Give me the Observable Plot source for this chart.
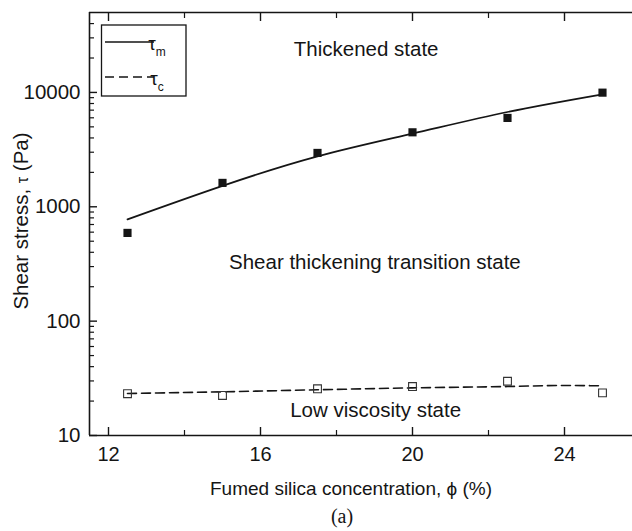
<!DOCTYPE html>
<html>
<head>
<meta charset="utf-8">
<script src="https://cdn.jsdelivr.net/npm/d3@7"></script>
<script src="https://cdn.jsdelivr.net/npm/@observablehq/plot@0.6"></script>
<style>
  html, body { margin: 0; padding: 0; background: #fff; }
  svg text { font-family: "Liberation Sans", Arial, Helvetica, sans-serif; }
</style>
</head>
<body>
<div id="chart"></div>
<script>
// ---- data ----
const concentration = [12.5, 15, 17.5, 20, 22.5, 25];           // φ (%)
const tauMMeasured  = [591, 1618, 2958, 4480, 5985, 9955];      // τm, filled squares (Pa)
const tauMFit       = [776, 1524, 2760, 4362, 6740, 9620];      // τm, solid curve (Pa)
const tauCMeasured  = [23.2, 22.4, 25.6, 26.8, 29.8, 23.6];     // τc, open squares (Pa)
const tauCFitX      = [12.5, 15, 17.5, 20, 22.5, 24, 24.9];
const tauCFit       = [23.3, 24.1, 25.1, 26.1, 26.8, 27.4, 27.2]; // τc, dashed curve (Pa)

const xMajorTicks = [12, 16, 20, 24];
const xMinorTicks = [14, 18, 22];
const yMajorTicks = [10, 100, 1000, 10000];
const yMinorTicks = [2,3,4,5,6,7,8,9].flatMap(m => [10, 100, 1000, 10000].map(d => m * d)).filter(v => v < 50000);

const annotations = [
  {label: "Thickened state", x: 18.78, y: 23900},
  {label: "Shear thickening transition state", x: 19.01, y: 328},
  {label: "Low viscosity state", x: 19.03, y: 16.7}
];

const measured = concentration.map((x, i) => ({x, m: tauMMeasured[i], c: tauCMeasured[i]}));
const fitM = concentration.map((x, i) => ({x, y: tauMFit[i]}));
const fitC = tauCFitX.map((x, i) => ({x, y: tauCFit[i]}));

const ink = "#151515";

const chart = Plot.plot({
  width: 632,
  height: 531,
  marginLeft: 89,
  marginRight: 0,
  marginTop: 12,
  marginBottom: 96,
  style: {fontFamily: "Liberation Sans, Arial, Helvetica, sans-serif", fontSize: "20px", color: ink, background: "#fff"},
  x: {domain: [11.5, 26], range: [89, 640]},
  y: {type: "log", domain: [10, 50000]},
  marks: [
    // frame lines
    Plot.ruleY([10, 50000], {stroke: ink, strokeWidth: 1.6}),
    Plot.ruleX([11.5], {stroke: ink, strokeWidth: 1.6}),
    // y axis labels and inward ticks
    Plot.axisY({ticks: yMajorTicks, tickSize: 0, tickPadding: 9, tickFormat: d => String(d), fontSize: 20.5, label: null, color: ink}),
    Plot.axisY({ticks: yMajorTicks, tickSize: -8, tickFormat: () => "", label: null, stroke: ink, strokeWidth: 1.4}),
    Plot.axisY({ticks: yMinorTicks, tickSize: -5, tickFormat: () => "", label: null, stroke: ink, strokeWidth: 1.2}),
    // x axis labels and inward ticks (bottom and top)
    Plot.axisX({ticks: xMajorTicks, tickSize: 0, tickPadding: 11, tickFormat: d => String(d), fontSize: 20, label: null, color: ink}),
    Plot.axisX({ticks: xMajorTicks, tickSize: -8, tickFormat: () => "", label: null, stroke: ink, strokeWidth: 1.4}),
    Plot.axisX({ticks: xMinorTicks, tickSize: -5, tickFormat: () => "", label: null, stroke: ink, strokeWidth: 1.2}),
    Plot.axisX({anchor: "top", ticks: xMajorTicks, tickSize: -8, tickFormat: () => "", label: null, stroke: ink, strokeWidth: 1.4}),
    Plot.axisX({anchor: "top", ticks: xMinorTicks, tickSize: -5, tickFormat: () => "", label: null, stroke: ink, strokeWidth: 1.2}),
    // fitted curves
    Plot.line(fitM, {x: "x", y: "y", stroke: ink, strokeWidth: 1.7, curve: "natural"}),
    Plot.line(fitC, {x: "x", y: "y", stroke: ink, strokeWidth: 1.6, strokeDasharray: "9,5", curve: "monotone-x"}),
    // measured points
    Plot.dot(measured, {x: "x", y: "m", symbol: "square", r: 4.6, fill: ink, stroke: "none"}),
    Plot.dot(measured, {x: "x", y: "c", symbol: "square", r: 4.4, fill: "none", stroke: "#333", strokeWidth: 1.1}),
    // region annotations
    Plot.text(annotations, {x: "x", y: "y", text: "label", fontSize: 20.5, fill: ink, textAnchor: "middle", lineAnchor: "middle"})
  ]
});

document.getElementById("chart").appendChild(chart);

// ---- decorations: legend, axis titles, panel label ----
const svg = d3.select(chart);
const deco = svg.append("g").attr("fill", ink);

// legend
const lg = deco.append("g");
lg.append("rect").attr("x", 101.5).attr("y", 25).attr("width", 84.5).attr("height", 71)
  .attr("fill", "#fff").attr("stroke", ink).attr("stroke-width", 1.3);
lg.append("line").attr("x1", 105).attr("x2", 154).attr("y1", 42).attr("y2", 42)
  .attr("stroke", ink).attr("stroke-width", 1.7);
lg.append("line").attr("x1", 105).attr("x2", 154).attr("y1", 77).attr("y2", 77)
  .attr("stroke", ink).attr("stroke-width", 1.6).attr("stroke-dasharray", "9,5");
const t1 = lg.append("text").attr("x", 157).attr("y", 50).attr("font-size", 19);
t1.append("tspan").text("τ");
t1.append("tspan").attr("dy", 6).attr("font-size", 12).text("m");
const t2 = lg.append("text").attr("x", 157).attr("y", 85).attr("font-size", 19);
t2.append("tspan").text("τ");
t2.append("tspan").attr("dy", 6).attr("font-size", 12).text("c");

// y axis title
const yt = deco.append("text")
  .attr("transform", "translate(28,221) rotate(-90)")
  .attr("text-anchor", "middle").attr("font-size", 20.5);
yt.append("tspan").text("Shear stress, ");
yt.append("tspan").attr("font-size", 16).text("τ");
yt.append("tspan").text(" (Pa)");

// x axis title
deco.append("text").attr("x", 351).attr("y", 495).attr("text-anchor", "middle")
  .attr("font-size", 19).text("Fumed silica concentration, ϕ (%)");

// panel label
deco.append("text").attr("x", 342).attr("y", 523).attr("text-anchor", "middle")
  .attr("font-size", 20).style("font-family", "'Liberation Serif', 'Times New Roman', serif").text("(a)");
</script>
</body>
</html>
